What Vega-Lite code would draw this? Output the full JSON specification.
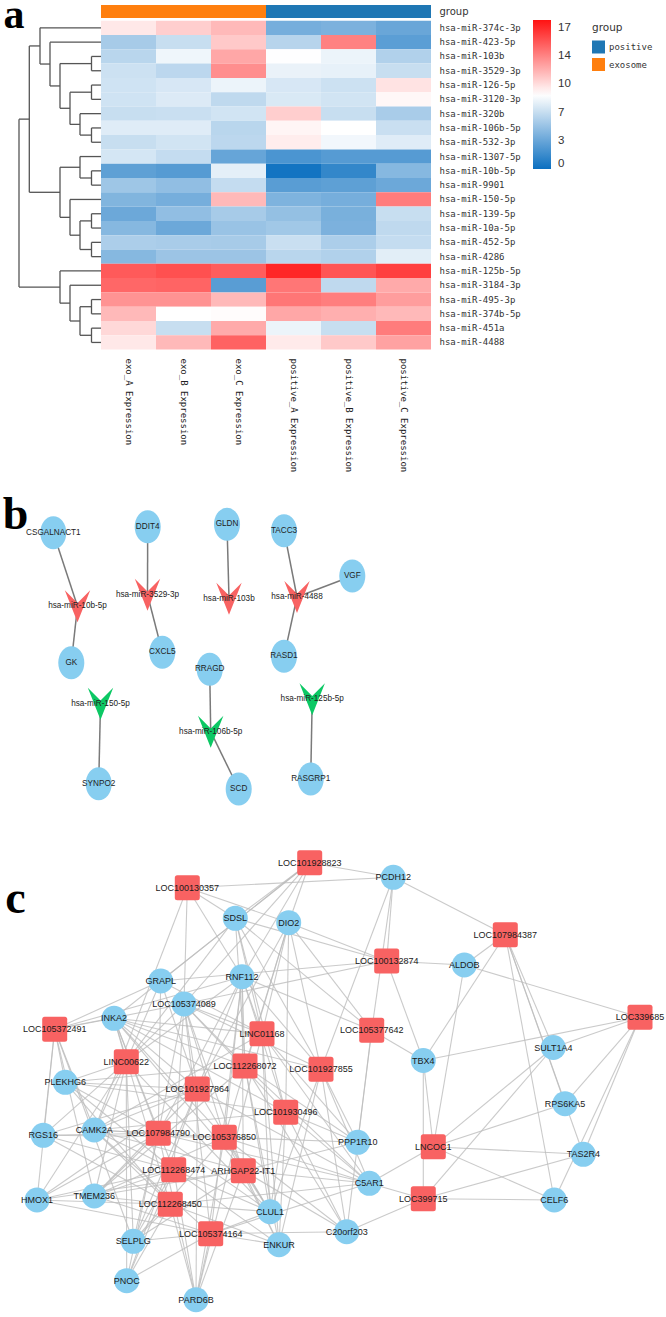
{
"$schema": "https://vega.github.io/schema/vega-lite/v6.json",
"width": 666, "height": 1317, "autosize": "none", "padding": 0, "background": "white",
"config": {"view": {"stroke": null}},
"datasets": {
"expr": [
{"gene":"hsa-miR-374c-3p","exo_A Expression":10,"exo_B Expression":11,"exo_C Expression":11.8,"positive_A Expression":4,"positive_B Expression":4.2,"positive_C Expression":3.5},
{"gene":"hsa-miR-423-5p","exo_A Expression":5.8,"exo_B Expression":7,"exo_C Expression":11.2,"positive_A Expression":6.4,"positive_B Expression":14,"positive_C Expression":3},
{"gene":"hsa-miR-103b","exo_A Expression":6.5,"exo_B Expression":8.5,"exo_C Expression":12.5,"positive_A Expression":9.05,"positive_B Expression":8.4,"positive_C Expression":6.2},
{"gene":"hsa-miR-3529-3p","exo_A Expression":7.2,"exo_B Expression":6.6,"exo_C Expression":13.5,"positive_A Expression":8.3,"positive_B Expression":8.2,"positive_C Expression":7},
{"gene":"hsa-miR-126-5p","exo_A Expression":7.3,"exo_B Expression":7.6,"exo_C Expression":8.4,"positive_A Expression":7.6,"positive_B Expression":7.2,"positive_C Expression":10.2},
{"gene":"hsa-miR-3120-3p","exo_A Expression":7.3,"exo_B Expression":7.8,"exo_C Expression":6.7,"positive_A Expression":7.7,"positive_B Expression":7.4,"positive_C Expression":9.4},
{"gene":"hsa-miR-320b","exo_A Expression":7,"exo_B Expression":7.1,"exo_C Expression":7.4,"positive_A Expression":11,"positive_B Expression":7,"positive_C Expression":5.9},
{"gene":"hsa-miR-106b-5p","exo_A Expression":7.9,"exo_B Expression":7.9,"exo_C Expression":6.5,"positive_A Expression":9.5,"positive_B Expression":9.1,"positive_C Expression":7.1},
{"gene":"hsa-miR-532-3p","exo_A Expression":7,"exo_B Expression":7.4,"exo_C Expression":6.6,"positive_A Expression":9.8,"positive_B Expression":8.6,"positive_C Expression":7.9},
{"gene":"hsa-miR-1307-5p","exo_A Expression":7.5,"exo_B Expression":6.9,"exo_C Expression":3.4,"positive_A Expression":2.4,"positive_B Expression":2.8,"positive_C Expression":2.8},
{"gene":"hsa-miR-10b-5p","exo_A Expression":3.1,"exo_B Expression":2.8,"exo_C Expression":8.1,"positive_A Expression":0.3,"positive_B Expression":1.5,"positive_C Expression":4.6},
{"gene":"hsa-miR-9901","exo_A Expression":5.5,"exo_B Expression":5,"exo_C Expression":6.9,"positive_A Expression":2.9,"positive_B Expression":3.1,"positive_C Expression":3.6},
{"gene":"hsa-miR-150-5p","exo_A Expression":4.4,"exo_B Expression":4,"exo_C Expression":11.8,"positive_A Expression":4.3,"positive_B Expression":4,"positive_C Expression":14.2},
{"gene":"hsa-miR-139-5p","exo_A Expression":3.6,"exo_B Expression":5,"exo_C Expression":5.8,"positive_A Expression":5.1,"positive_B Expression":4.1,"positive_C Expression":7},
{"gene":"hsa-miR-10a-5p","exo_A Expression":4.6,"exo_B Expression":3.6,"exo_C Expression":5.3,"positive_A Expression":5.6,"positive_B Expression":4.2,"positive_C Expression":6.7},
{"gene":"hsa-miR-452-5p","exo_A Expression":6,"exo_B Expression":5.9,"exo_C Expression":5.8,"positive_A Expression":7.1,"positive_B Expression":6,"positive_C Expression":6.9},
{"gene":"hsa-miR-4286","exo_A Expression":4.6,"exo_B Expression":5.4,"exo_C Expression":5.4,"positive_A Expression":6.5,"positive_B Expression":6.2,"positive_C Expression":8},
{"gene":"hsa-miR-125b-5p","exo_A Expression":15.5,"exo_B Expression":15.9,"exo_C Expression":15.4,"positive_A Expression":17.5,"positive_B Expression":15.7,"positive_C Expression":16.5},
{"gene":"hsa-miR-3184-3p","exo_A Expression":15,"exo_B Expression":15.1,"exo_C Expression":2.9,"positive_A Expression":14.4,"positive_B Expression":6.7,"positive_C Expression":12.4},
{"gene":"hsa-miR-495-3p","exo_A Expression":13.3,"exo_B Expression":13.3,"exo_C Expression":11.8,"positive_A Expression":14.4,"positive_B Expression":14.1,"positive_C Expression":12.9},
{"gene":"hsa-miR-374b-5p","exo_A Expression":11.8,"exo_B Expression":9.1,"exo_C Expression":9.2,"positive_A Expression":12.5,"positive_B Expression":12.2,"positive_C Expression":11.8},
{"gene":"hsa-miR-451a","exo_A Expression":10.6,"exo_B Expression":7,"exo_C Expression":12.4,"positive_A Expression":8.4,"positive_B Expression":7,"positive_C Expression":14.2},
{"gene":"hsa-miR-4488","exo_A Expression":10,"exo_B Expression":11.8,"exo_C Expression":15.2,"positive_A Expression":9.9,"positive_B Expression":11.2,"positive_C Expression":12.7}
],
"samples": [
{"sample":"exo_A Expression","group":"exosome"},{"sample":"exo_B Expression","group":"exosome"},{"sample":"exo_C Expression","group":"exosome"},
{"sample":"positive_A Expression","group":"positive"},{"sample":"positive_B Expression","group":"positive"},{"sample":"positive_C Expression","group":"positive"}
],
"dendro": [
{"h0":0.95,"h1":0.95,"r0":2,"r1":3},{"h0":0,"h1":0.95,"r0":2,"r1":2},{"h0":0,"h1":0.95,"r0":3,"r1":3},
{"h0":0.95,"h1":0.95,"r0":4,"r1":5},{"h0":0,"h1":0.95,"r0":4,"r1":4},{"h0":0,"h1":0.95,"r0":5,"r1":5},
{"h0":0.95,"h1":0.95,"r0":7,"r1":8},{"h0":0,"h1":0.95,"r0":7,"r1":7},{"h0":0,"h1":0.95,"r0":8,"r1":8},
{"h0":0.95,"h1":0.95,"r0":10,"r1":11},{"h0":0,"h1":0.95,"r0":10,"r1":10},{"h0":0,"h1":0.95,"r0":11,"r1":11},
{"h0":0.95,"h1":0.95,"r0":13,"r1":14},{"h0":0,"h1":0.95,"r0":13,"r1":13},{"h0":0,"h1":0.95,"r0":14,"r1":14},
{"h0":0.95,"h1":0.95,"r0":15,"r1":16},{"h0":0,"h1":0.95,"r0":15,"r1":15},{"h0":0,"h1":0.95,"r0":16,"r1":16},
{"h0":0.95,"h1":0.95,"r0":19,"r1":20},{"h0":0,"h1":0.95,"r0":19,"r1":19},{"h0":0,"h1":0.95,"r0":20,"r1":20},
{"h0":0.95,"h1":0.95,"r0":21,"r1":22},{"h0":0,"h1":0.95,"r0":21,"r1":21},{"h0":0,"h1":0.95,"r0":22,"r1":22},
{"h0":2.1,"h1":2.1,"r0":6,"r1":7.5},{"h0":0,"h1":2.1,"r0":6,"r1":6},{"h0":0.95,"h1":2.1,"r0":7.5,"r1":7.5},
{"h0":3.1,"h1":3.1,"r0":4.5,"r1":6.75},{"h0":0.95,"h1":3.1,"r0":4.5,"r1":4.5},{"h0":2.1,"h1":3.1,"r0":6.75,"r1":6.75},
{"h0":4.1,"h1":4.1,"r0":2.5,"r1":5.625},{"h0":0.95,"h1":4.1,"r0":2.5,"r1":2.5},{"h0":3.1,"h1":4.1,"r0":5.625,"r1":5.625},
{"h0":5.1,"h1":5.1,"r0":1,"r1":4.0625},{"h0":0,"h1":5.1,"r0":1,"r1":1},{"h0":4.1,"h1":5.1,"r0":4.0625,"r1":4.0625},
{"h0":6.1,"h1":6.1,"r0":0,"r1":2.53},{"h0":0,"h1":6.1,"r0":0,"r1":0},{"h0":5.1,"h1":6.1,"r0":2.53,"r1":2.53},
{"h0":2.1,"h1":2.1,"r0":9,"r1":10.5},{"h0":0,"h1":2.1,"r0":9,"r1":9},{"h0":0.95,"h1":2.1,"r0":10.5,"r1":10.5},
{"h0":2.1,"h1":2.1,"r0":13.5,"r1":15.5},{"h0":0.95,"h1":2.1,"r0":13.5,"r1":13.5},{"h0":0.95,"h1":2.1,"r0":15.5,"r1":15.5},
{"h0":3.1,"h1":3.1,"r0":12,"r1":14.5},{"h0":0,"h1":3.1,"r0":12,"r1":12},{"h0":2.1,"h1":3.1,"r0":14.5,"r1":14.5},
{"h0":4.1,"h1":4.1,"r0":9.75,"r1":13.25},{"h0":2.1,"h1":4.1,"r0":9.75,"r1":9.75},{"h0":3.1,"h1":4.1,"r0":13.25,"r1":13.25},
{"h0":7.17,"h1":7.17,"r0":1.265,"r1":11.5},{"h0":6.1,"h1":7.17,"r0":1.265,"r1":1.265},{"h0":4.1,"h1":7.17,"r0":11.5,"r1":11.5},
{"h0":2.1,"h1":2.1,"r0":19.5,"r1":21.5},{"h0":0.95,"h1":2.1,"r0":19.5,"r1":19.5},{"h0":0.95,"h1":2.1,"r0":21.5,"r1":21.5},
{"h0":3.1,"h1":3.1,"r0":18,"r1":20.5},{"h0":0,"h1":3.1,"r0":18,"r1":18},{"h0":2.1,"h1":3.1,"r0":20.5,"r1":20.5},
{"h0":4.1,"h1":4.1,"r0":17,"r1":19.25},{"h0":0,"h1":4.1,"r0":17,"r1":17},{"h0":3.1,"h1":4.1,"r0":19.25,"r1":19.25},
{"h0":8.2,"h1":8.2,"r0":6.383,"r1":18.125},{"h0":7.17,"h1":8.2,"r0":6.383,"r1":6.383},{"h0":4.1,"h1":8.2,"r0":18.125,"r1":18.125}
],
"bnodes": [
{"id":"CSGALNACT1","kind":"mRNA","x":53.3,"y":52.7},
{"id":"DDIT4","kind":"mRNA","x":147.7,"y":46.7},
{"id":"GLDN","kind":"mRNA","x":227,"y":44.3},
{"id":"TACC3","kind":"mRNA","x":284,"y":50.7},
{"id":"VGF","kind":"mRNA","x":352.3,"y":96},
{"id":"GK","kind":"mRNA","x":71.3,"y":182.7},
{"id":"CXCL5","kind":"mRNA","x":162.3,"y":172.3},
{"id":"RASD1","kind":"mRNA","x":284,"y":176.3},
{"id":"RRAGD","kind":"mRNA","x":209.7,"y":189.3},
{"id":"SYNPO2","kind":"mRNA","x":98.7,"y":303.7},
{"id":"SCD","kind":"mRNA","x":238.7,"y":309},
{"id":"RASGRP1","kind":"mRNA","x":310.7,"y":299},
{"id":"hsa-miR-10b-5p","kind":"up","x":77.5,"y":126.3},
{"id":"hsa-miR-3529-3p","kind":"up","x":147.5,"y":114.7},
{"id":"hsa-miR-103b","kind":"up","x":229,"y":118.8},
{"id":"hsa-miR-4488","kind":"up","x":297,"y":117},
{"id":"hsa-miR-150-5p","kind":"down","x":100.5,"y":223.7},
{"id":"hsa-miR-106b-5p","kind":"down","x":210.7,"y":251.7},
{"id":"hsa-miR-125b-5p","kind":"down","x":312.2,"y":219.3}
],
"bedges": [
{"s":"CSGALNACT1","t":"hsa-miR-10b-5p"},{"s":"hsa-miR-10b-5p","t":"GK"},
{"s":"DDIT4","t":"hsa-miR-3529-3p"},{"s":"hsa-miR-3529-3p","t":"CXCL5"},
{"s":"GLDN","t":"hsa-miR-103b"},
{"s":"TACC3","t":"hsa-miR-4488"},{"s":"VGF","t":"hsa-miR-4488"},{"s":"RASD1","t":"hsa-miR-4488"},
{"s":"hsa-miR-150-5p","t":"SYNPO2"},
{"s":"RRAGD","t":"hsa-miR-106b-5p"},{"s":"hsa-miR-106b-5p","t":"SCD"},
{"s":"hsa-miR-125b-5p","t":"RASGRP1"}
],
"cnodes": [
{"id":"LOC101928823","kind":"lncRNA","x":309.7,"y":22.7},
{"id":"LOC100130357","kind":"lncRNA","x":187.3,"y":47.7},
{"id":"SDSL","kind":"mRNA","x":235.3,"y":78.3},
{"id":"DIO2","kind":"mRNA","x":288.7,"y":82.7},
{"id":"PCDH12","kind":"mRNA","x":393.3,"y":37.3},
{"id":"LOC107984387","kind":"lncRNA","x":505.3,"y":94.7},
{"id":"LOC100132874","kind":"lncRNA","x":386.7,"y":121},
{"id":"ALDOB","kind":"mRNA","x":464.3,"y":125},
{"id":"GRAPL","kind":"mRNA","x":160.7,"y":141},
{"id":"RNF112","kind":"mRNA","x":242,"y":136.7},
{"id":"LOC105374089","kind":"mRNA","x":184,"y":164},
{"id":"INKA2","kind":"mRNA","x":114,"y":178.3},
{"id":"LOC105372491","kind":"lncRNA","x":54.7,"y":189.3},
{"id":"LINC01168","kind":"lncRNA","x":262,"y":193.7},
{"id":"LOC105377642","kind":"lncRNA","x":371.7,"y":190.3},
{"id":"LOC339685","kind":"lncRNA","x":640,"y":177.3},
{"id":"SULT1A4","kind":"mRNA","x":553.3,"y":207.5},
{"id":"TBX4","kind":"mRNA","x":423.3,"y":220.5},
{"id":"LINC00622","kind":"lncRNA","x":126.3,"y":221.7},
{"id":"LOC112268072","kind":"lncRNA","x":245,"y":226},
{"id":"LOC101927855","kind":"lncRNA","x":321,"y":229.3},
{"id":"PLEKHG6","kind":"mRNA","x":65.3,"y":242.3},
{"id":"LOC101927864","kind":"lncRNA","x":197.3,"y":249},
{"id":"LOC101930496","kind":"lncRNA","x":285.7,"y":272.3},
{"id":"RPS6KA5","kind":"mRNA","x":565,"y":263.7},
{"id":"RGS16","kind":"mRNA","x":43.3,"y":295.3},
{"id":"CAMK2A","kind":"mRNA","x":94.3,"y":290},
{"id":"LOC107984790","kind":"lncRNA","x":158.3,"y":293.3},
{"id":"LOC105376850","kind":"lncRNA","x":224.3,"y":297.3},
{"id":"PPP1R10","kind":"mRNA","x":357.7,"y":302.3},
{"id":"LNCOC1","kind":"lncRNA","x":433.3,"y":306.7},
{"id":"TAS2R4","kind":"mRNA","x":583.3,"y":314.3},
{"id":"LOC112268474","kind":"lncRNA","x":173.7,"y":329.7},
{"id":"ARHGAP22-IT1","kind":"lncRNA","x":243.3,"y":330.7},
{"id":"C5AR1","kind":"mRNA","x":369.3,"y":343.3},
{"id":"HMOX1","kind":"mRNA","x":37,"y":360},
{"id":"TMEM236","kind":"mRNA","x":94.3,"y":356},
{"id":"LOC112268450","kind":"lncRNA","x":170.3,"y":364.3},
{"id":"LOC399715","kind":"lncRNA","x":423.3,"y":358.7},
{"id":"CELF6","kind":"mRNA","x":554.3,"y":360},
{"id":"CLUL1","kind":"mRNA","x":270,"y":371.7},
{"id":"LOC105374164","kind":"lncRNA","x":210.7,"y":393.7},
{"id":"SELPLG","kind":"mRNA","x":133.3,"y":401.3},
{"id":"ENKUR","kind":"mRNA","x":279,"y":404.7},
{"id":"C20orf203","kind":"mRNA","x":346.7,"y":391.7},
{"id":"PNOC","kind":"mRNA","x":126.7,"y":440.7},
{"id":"PARD6B","kind":"mRNA","x":196,"y":459.7}
],
"cedges": [
{"s":"LOC107984387","t":"PCDH12"},{"s":"LOC107984387","t":"ALDOB"},{"s":"LOC107984387","t":"TBX4"},{"s":"LOC107984387","t":"SULT1A4"},{"s":"LOC107984387","t":"RPS6KA5"},{"s":"LOC107984387","t":"TAS2R4"},{"s":"LOC107984387","t":"CELF6"},
{"s":"LOC339685","t":"ALDOB"},{"s":"LOC339685","t":"TBX4"},{"s":"LOC339685","t":"SULT1A4"},{"s":"LOC339685","t":"RPS6KA5"},{"s":"LOC339685","t":"TAS2R4"},{"s":"LOC339685","t":"CELF6"},
{"s":"LNCOC1","t":"ALDOB"},{"s":"LNCOC1","t":"TBX4"},{"s":"LNCOC1","t":"SULT1A4"},{"s":"LNCOC1","t":"RPS6KA5"},{"s":"LNCOC1","t":"TAS2R4"},{"s":"LNCOC1","t":"CELF6"},{"s":"LNCOC1","t":"C5AR1"},
{"s":"LOC399715","t":"TBX4"},{"s":"LOC399715","t":"SULT1A4"},{"s":"LOC399715","t":"TAS2R4"},{"s":"LOC399715","t":"CELF6"},{"s":"LOC399715","t":"C5AR1"},{"s":"LOC399715","t":"C20orf203"},
{"s":"LOC100132874","t":"PCDH12"},{"s":"LOC100132874","t":"ALDOB"},{"s":"LOC100132874","t":"TBX4"},{"s":"LOC100132874","t":"DIO2"},{"s":"LOC100132874","t":"SDSL"},{"s":"LOC100132874","t":"LOC105374089"},{"s":"LOC100132874","t":"GRAPL"},
{"s":"LOC105377642","t":"PCDH12"},{"s":"LOC105377642","t":"TBX4"},{"s":"LOC105377642","t":"PPP1R10"},{"s":"LOC105377642","t":"DIO2"},{"s":"LOC105377642","t":"SDSL"},{"s":"LOC105377642","t":"RNF112"},{"s":"LOC105377642","t":"C20orf203"},
{"s":"LOC101928823","t":"PCDH12"},{"s":"LOC101928823","t":"SDSL"},{"s":"LOC101928823","t":"DIO2"},{"s":"LOC101928823","t":"RNF112"},{"s":"LOC101928823","t":"GRAPL"},{"s":"LOC101928823","t":"LOC105374089"},{"s":"LOC101928823","t":"INKA2"},
{"s":"LOC100130357","t":"PCDH12"},{"s":"LOC100130357","t":"SDSL"},{"s":"LOC100130357","t":"DIO2"},{"s":"LOC100130357","t":"RNF112"},{"s":"LOC100130357","t":"LOC105374089"},{"s":"LOC100130357","t":"CAMK2A"},
{"s":"LOC105372491","t":"INKA2"},{"s":"LOC105372491","t":"GRAPL"},{"s":"LOC105372491","t":"PLEKHG6"},{"s":"LOC105372491","t":"RGS16"},{"s":"LOC105372491","t":"HMOX1"},{"s":"LOC105372491","t":"CAMK2A"},{"s":"LOC105372491","t":"TMEM236"},{"s":"LOC105372491","t":"SELPLG"},{"s":"LOC105372491","t":"LOC105374089"},{"s":"LOC105372491","t":"RNF112"},
{"s":"LINC00622","t":"INKA2"},{"s":"LINC00622","t":"PLEKHG6"},{"s":"LINC00622","t":"RGS16"},{"s":"LINC00622","t":"CAMK2A"},{"s":"LINC00622","t":"HMOX1"},{"s":"LINC00622","t":"TMEM236"},{"s":"LINC00622","t":"SELPLG"},{"s":"LINC00622","t":"PNOC"},{"s":"LINC00622","t":"GRAPL"},{"s":"LINC00622","t":"LOC105374089"},{"s":"LINC00622","t":"RNF112"},{"s":"LINC00622","t":"SDSL"},{"s":"LINC00622","t":"CLUL1"},
{"s":"LINC01168","t":"RNF112"},{"s":"LINC01168","t":"LOC105374089"},{"s":"LINC01168","t":"SDSL"},{"s":"LINC01168","t":"DIO2"},{"s":"LINC01168","t":"INKA2"},{"s":"LINC01168","t":"GRAPL"},{"s":"LINC01168","t":"PPP1R10"},{"s":"LINC01168","t":"C5AR1"},{"s":"LINC01168","t":"CLUL1"},{"s":"LINC01168","t":"ENKUR"},{"s":"LINC01168","t":"CAMK2A"},{"s":"LINC01168","t":"PARD6B"},
{"s":"LOC112268072","t":"RNF112"},{"s":"LOC112268072","t":"SDSL"},{"s":"LOC112268072","t":"DIO2"},{"s":"LOC112268072","t":"LOC105374089"},{"s":"LOC112268072","t":"INKA2"},{"s":"LOC112268072","t":"PLEKHG6"},{"s":"LOC112268072","t":"C5AR1"},{"s":"LOC112268072","t":"PPP1R10"},{"s":"LOC112268072","t":"CLUL1"},{"s":"LOC112268072","t":"ENKUR"},{"s":"LOC112268072","t":"C20orf203"},{"s":"LOC112268072","t":"TMEM236"},
{"s":"LOC101927855","t":"DIO2"},{"s":"LOC101927855","t":"SDSL"},{"s":"LOC101927855","t":"RNF112"},{"s":"LOC101927855","t":"PCDH12"},{"s":"LOC101927855","t":"PPP1R10"},{"s":"LOC101927855","t":"C5AR1"},{"s":"LOC101927855","t":"C20orf203"},{"s":"LOC101927855","t":"ENKUR"},{"s":"LOC101927855","t":"CLUL1"},{"s":"LOC101927855","t":"LOC105374089"},{"s":"LOC101927855","t":"INKA2"},
{"s":"LOC101927864","t":"GRAPL"},{"s":"LOC101927864","t":"RNF112"},{"s":"LOC101927864","t":"LOC105374089"},{"s":"LOC101927864","t":"INKA2"},{"s":"LOC101927864","t":"PLEKHG6"},{"s":"LOC101927864","t":"RGS16"},{"s":"LOC101927864","t":"CAMK2A"},{"s":"LOC101927864","t":"HMOX1"},{"s":"LOC101927864","t":"TMEM236"},{"s":"LOC101927864","t":"SELPLG"},{"s":"LOC101927864","t":"PNOC"},{"s":"LOC101927864","t":"PARD6B"},{"s":"LOC101927864","t":"CLUL1"},{"s":"LOC101927864","t":"C5AR1"},{"s":"LOC101927864","t":"DIO2"},
{"s":"LOC101930496","t":"RNF112"},{"s":"LOC101930496","t":"DIO2"},{"s":"LOC101930496","t":"SDSL"},{"s":"LOC101930496","t":"LOC105374089"},{"s":"LOC101930496","t":"PPP1R10"},{"s":"LOC101930496","t":"C5AR1"},{"s":"LOC101930496","t":"C20orf203"},{"s":"LOC101930496","t":"CLUL1"},{"s":"LOC101930496","t":"ENKUR"},{"s":"LOC101930496","t":"INKA2"},{"s":"LOC101930496","t":"PLEKHG6"},{"s":"LOC101930496","t":"CAMK2A"},
{"s":"LOC107984790","t":"INKA2"},{"s":"LOC107984790","t":"PLEKHG6"},{"s":"LOC107984790","t":"RGS16"},{"s":"LOC107984790","t":"CAMK2A"},{"s":"LOC107984790","t":"HMOX1"},{"s":"LOC107984790","t":"TMEM236"},{"s":"LOC107984790","t":"SELPLG"},{"s":"LOC107984790","t":"PNOC"},{"s":"LOC107984790","t":"PARD6B"},{"s":"LOC107984790","t":"LOC105374089"},{"s":"LOC107984790","t":"GRAPL"},{"s":"LOC107984790","t":"RNF112"},{"s":"LOC107984790","t":"CLUL1"},{"s":"LOC107984790","t":"C5AR1"},
{"s":"LOC105376850","t":"RNF112"},{"s":"LOC105376850","t":"LOC105374089"},{"s":"LOC105376850","t":"INKA2"},{"s":"LOC105376850","t":"CAMK2A"},{"s":"LOC105376850","t":"RGS16"},{"s":"LOC105376850","t":"TMEM236"},{"s":"LOC105376850","t":"CLUL1"},{"s":"LOC105376850","t":"ENKUR"},{"s":"LOC105376850","t":"C5AR1"},{"s":"LOC105376850","t":"PPP1R10"},{"s":"LOC105376850","t":"C20orf203"},{"s":"LOC105376850","t":"SELPLG"},{"s":"LOC105376850","t":"PARD6B"},{"s":"LOC105376850","t":"DIO2"},
{"s":"LOC112268474","t":"PLEKHG6"},{"s":"LOC112268474","t":"RGS16"},{"s":"LOC112268474","t":"CAMK2A"},{"s":"LOC112268474","t":"HMOX1"},{"s":"LOC112268474","t":"TMEM236"},{"s":"LOC112268474","t":"SELPLG"},{"s":"LOC112268474","t":"PNOC"},{"s":"LOC112268474","t":"PARD6B"},{"s":"LOC112268474","t":"INKA2"},{"s":"LOC112268474","t":"LOC105374089"},{"s":"LOC112268474","t":"CLUL1"},{"s":"LOC112268474","t":"ENKUR"},
{"s":"ARHGAP22-IT1","t":"RNF112"},{"s":"ARHGAP22-IT1","t":"LOC105374089"},{"s":"ARHGAP22-IT1","t":"CLUL1"},{"s":"ARHGAP22-IT1","t":"ENKUR"},{"s":"ARHGAP22-IT1","t":"C5AR1"},{"s":"ARHGAP22-IT1","t":"PPP1R10"},{"s":"ARHGAP22-IT1","t":"C20orf203"},{"s":"ARHGAP22-IT1","t":"TMEM236"},{"s":"ARHGAP22-IT1","t":"CAMK2A"},{"s":"ARHGAP22-IT1","t":"SELPLG"},{"s":"ARHGAP22-IT1","t":"PARD6B"},{"s":"ARHGAP22-IT1","t":"HMOX1"},{"s":"ARHGAP22-IT1","t":"INKA2"},
{"s":"LOC112268450","t":"RGS16"},{"s":"LOC112268450","t":"HMOX1"},{"s":"LOC112268450","t":"TMEM236"},{"s":"LOC112268450","t":"CAMK2A"},{"s":"LOC112268450","t":"PLEKHG6"},{"s":"LOC112268450","t":"SELPLG"},{"s":"LOC112268450","t":"PNOC"},{"s":"LOC112268450","t":"PARD6B"},{"s":"LOC112268450","t":"CLUL1"},{"s":"LOC112268450","t":"ENKUR"},{"s":"LOC112268450","t":"INKA2"},{"s":"LOC112268450","t":"C5AR1"},
{"s":"LOC105374164","t":"SELPLG"},{"s":"LOC105374164","t":"PNOC"},{"s":"LOC105374164","t":"PARD6B"},{"s":"LOC105374164","t":"ENKUR"},{"s":"LOC105374164","t":"CLUL1"},{"s":"LOC105374164","t":"C20orf203"},{"s":"LOC105374164","t":"TMEM236"},{"s":"LOC105374164","t":"HMOX1"},{"s":"LOC105374164","t":"CAMK2A"},{"s":"LOC105374164","t":"C5AR1"},{"s":"LOC105374164","t":"LOC105374089"},{"s":"LOC105374164","t":"RNF112"}
]
},
"layer": [
{
"data": {"name": "expr"},
"transform": [{"fold": ["exo_A Expression","exo_B Expression","exo_C Expression","positive_A Expression","positive_B Expression","positive_C Expression"], "as": ["sample","value"]}],
"mark": {"type": "rect"},
"encoding": {
"x": {"field": "sample", "type": "nominal", "scale": {"domain": ["exo_A Expression","exo_B Expression","exo_C Expression","positive_A Expression","positive_B Expression","positive_C Expression"], "range": [101, 431], "paddingInner": 0, "paddingOuter": 0},
 "axis": {"orient": "bottom", "offset": -967, "title": null, "labelAngle": 90, "labelFont": "DejaVu Sans Mono", "labelFontSize": 9, "labelColor": "#222", "domain": false, "ticks": false, "labelPadding": 8, "labelOverlap": false, "labelFlush": false}},
"y": {"field": "gene", "type": "nominal", "scale": {"domain": ["hsa-miR-374c-3p","hsa-miR-423-5p","hsa-miR-103b","hsa-miR-3529-3p","hsa-miR-126-5p","hsa-miR-3120-3p","hsa-miR-320b","hsa-miR-106b-5p","hsa-miR-532-3p","hsa-miR-1307-5p","hsa-miR-10b-5p","hsa-miR-9901","hsa-miR-150-5p","hsa-miR-139-5p","hsa-miR-10a-5p","hsa-miR-452-5p","hsa-miR-4286","hsa-miR-125b-5p","hsa-miR-3184-3p","hsa-miR-495-3p","hsa-miR-374b-5p","hsa-miR-451a","hsa-miR-4488"], "range": [20.7, 349.6], "paddingInner": 0, "paddingOuter": 0},
 "axis": {"orient": "right", "offset": -235, "title": null, "labelFont": "DejaVu Sans Mono", "labelFontSize": 9, "labelColor": "#333", "domain": false, "ticks": false, "labelPadding": 8, "labelOverlap": false}},
"color": {"field": "value", "type": "quantitative", "scale": {"domain": [0, 9.1, 18.3], "range": ["#0b6fc0", "#ffffff", "#ff1212"], "interpolate": "rgb"},
 "legend": {"orient": "none", "legendX": 533, "legendY": 20, "title": null, "direction": "vertical", "gradientLength": 149, "gradientThickness": 18, "values": [0, 3.46, 6.92, 10.38, 13.84, 17.3], "format": ".0f", "labelFont": "Liberation Sans", "labelFontSize": 11.5, "labelColor": "#333", "labelOffset": 7, "padding": 0, "gradientStrokeWidth": 0}}
}
},
{
"data": {"name": "samples"},
"mark": {"type": "rect"},
"encoding": {
"x": {"field": "sample", "type": "nominal", "scale": {"domain": ["exo_A Expression","exo_B Expression","exo_C Expression","positive_A Expression","positive_B Expression","positive_C Expression"], "range": [101, 431], "paddingInner": 0, "paddingOuter": 0}, "axis": null},
"y": {"datum": "group", "type": "nominal", "scale": {"domain": ["group"], "range": [5, 18], "paddingInner": 0, "paddingOuter": 0},
 "axis": {"orient": "right", "offset": -235, "title": null, "labelFont": "DejaVu Sans", "labelFontSize": 10, "labelColor": "#333", "domain": false, "ticks": false, "labelPadding": 8}},
"color": {"field": "group", "type": "nominal", "scale": {"domain": ["positive", "exosome"], "range": ["#1f77b4", "#ff7f0e"]},
 "legend": {"orient": "none", "legendX": 592, "legendY": 23, "title": "group", "titleFont": "DejaVu Sans", "titleFontSize": 10.5, "titleFontWeight": "normal", "titleColor": "#333", "titlePadding": 7, "labelFont": "DejaVu Sans Mono", "labelFontSize": 9, "labelColor": "#333", "symbolType": "square", "symbolSize": 169, "symbolStrokeWidth": 0, "symbolOpacity": 1, "rowPadding": 4.5, "labelOffset": 4, "padding": 0}}
}
},
{
"data": {"name": "dendro"},
"mark": {"type": "rule", "color": "#555", "strokeWidth": 1.3},
"encoding": {
"x": {"field": "h0", "type": "quantitative", "scale": {"domain": [0, 8.2], "range": [101, 19], "nice": false, "zero": false}, "axis": null},
"x2": {"field": "h1"},
"y": {"field": "r0", "type": "quantitative", "scale": {"domain": [-0.5, 22.5], "range": [20.7, 349.6], "nice": false, "zero": false}, "axis": null},
"y2": {"field": "r1"}
}
},
{
"data": {"values": [{"letter": "a", "h": 8.7, "r": 0.0}]},
"mark": {"type": "text", "font": "Liberation Serif", "fontWeight": "bold", "fontSize": 42, "align": "center", "baseline": "alphabetic", "color": "#000"},
"encoding": {
"x": {"field": "h", "type": "quantitative", "scale": {"domain": [0, 8.2], "range": [101, 19], "nice": false, "zero": false}, "axis": null},
"y": {"field": "r", "type": "quantitative", "scale": {"domain": [-0.5, 22.5], "range": [20.7, 349.6], "nice": false, "zero": false}, "axis": null},
"text": {"field": "letter"}
}
},
{
"data": {"name": "bedges"},
"transform": [
{"lookup": "s", "from": {"data": {"name": "bnodes"}, "key": "id", "fields": ["x", "y"]}, "as": ["sx", "sy"]},
{"lookup": "t", "from": {"data": {"name": "bnodes"}, "key": "id", "fields": ["x", "y"]}, "as": ["tx", "ty"]}
],
"mark": {"type": "rule", "color": "#7a7a7a", "strokeWidth": 1.5},
"encoding": {
"x": {"field": "sx", "type": "quantitative", "scale": {"domain": [0, 666], "range": [0, 666], "nice": false, "zero": false}, "axis": null},
"x2": {"field": "tx"},
"y": {"field": "sy", "type": "quantitative", "scale": {"domain": [0, 330], "range": [480, 810], "nice": false, "zero": false}, "axis": null},
"y2": {"field": "ty"}
}
},
{
"data": {"name": "bnodes"},
"mark": {"type": "point", "filled": true, "size": 1089, "opacity": 1, "strokeWidth": 0},
"encoding": {
"x": {"field": "x", "type": "quantitative", "scale": {"domain": [0, 666], "range": [0, 666], "nice": false, "zero": false}, "axis": null},
"y": {"field": "y", "type": "quantitative", "scale": {"domain": [0, 330], "range": [480, 810], "nice": false, "zero": false}, "axis": null},
"shape": {"field": "kind", "type": "nominal", "scale": {"domain": ["mRNA", "up", "down"], "range": ["M0,-1C0.436,-1 0.79,-0.552 0.79,0C0.79,0.552 0.436,1 0,1C-0.436,1 -0.79,0.552 -0.79,0C-0.79,-0.552 -0.436,-1 0,-1Z", "M-0.77,-0.97L0,-0.2L0.77,-0.97L0,0.97Z", "M-0.77,-0.97L0,-0.2L0.77,-0.97L0,0.97Z"]}, "legend": null},
"fill": {"field": "kind", "type": "nominal", "scale": {"domain": ["mRNA", "up", "down"], "range": ["#87cef0", "#f86262", "#0cc864"]}, "legend": null}
}
},
{
"data": {"name": "bnodes"},
"mark": {"type": "text", "font": "Liberation Sans", "fontSize": 8.2, "align": "center", "baseline": "middle", "color": "#222"},
"encoding": {
"x": {"field": "x", "type": "quantitative", "scale": {"domain": [0, 666], "range": [0, 666], "nice": false, "zero": false}, "axis": null},
"y": {"field": "y", "type": "quantitative", "scale": {"domain": [0, 330], "range": [480, 810], "nice": false, "zero": false}, "axis": null},
"text": {"field": "id"}
}
},
{
"data": {"values": [{"letter": "b", "x": 15.5, "y": 49}]},
"mark": {"type": "text", "font": "Liberation Serif", "fontWeight": "bold", "fontSize": 46, "align": "center", "baseline": "alphabetic", "color": "#000"},
"encoding": {
"x": {"field": "x", "type": "quantitative", "scale": {"domain": [0, 666], "range": [0, 666], "nice": false, "zero": false}, "axis": null},
"y": {"field": "y", "type": "quantitative", "scale": {"domain": [0, 330], "range": [480, 810], "nice": false, "zero": false}, "axis": null},
"text": {"field": "letter"}
}
},
{
"data": {"name": "cedges"},
"transform": [
{"lookup": "s", "from": {"data": {"name": "cnodes"}, "key": "id", "fields": ["x", "y"]}, "as": ["sx", "sy"]},
{"lookup": "t", "from": {"data": {"name": "cnodes"}, "key": "id", "fields": ["x", "y"]}, "as": ["tx", "ty"]}
],
"mark": {"type": "rule", "color": "#bdbdbd", "strokeWidth": 1.1, "opacity": 0.8},
"encoding": {
"x": {"field": "sx", "type": "quantitative", "scale": {"domain": [0, 666], "range": [0, 666], "nice": false, "zero": false}, "axis": null},
"x2": {"field": "tx"},
"y": {"field": "sy", "type": "quantitative", "scale": {"domain": [0, 477], "range": [840, 1317], "nice": false, "zero": false}, "axis": null},
"y2": {"field": "ty"}
}
},
{
"data": {"name": "cnodes"},
"mark": {"type": "point", "filled": true, "size": 625, "opacity": 1, "strokeWidth": 0},
"encoding": {
"x": {"field": "x", "type": "quantitative", "scale": {"domain": [0, 666], "range": [0, 666], "nice": false, "zero": false}, "axis": null},
"y": {"field": "y", "type": "quantitative", "scale": {"domain": [0, 477], "range": [840, 1317], "nice": false, "zero": false}, "axis": null},
"shape": {"field": "kind", "type": "nominal", "scale": {"domain": ["mRNA", "lncRNA"], "range": ["circle", "M-0.8,-1L0.8,-1Q1,-1 1,-0.8L1,0.8Q1,1 0.8,1L-0.8,1Q-1,1 -1,0.8L-1,-0.8Q-1,-1 -0.8,-1Z"]}, "legend": null},
"fill": {"field": "kind", "type": "nominal", "scale": {"domain": ["mRNA", "lncRNA"], "range": ["#87cef0", "#f86262"]}, "legend": null}
}
},
{
"data": {"name": "cnodes"},
"mark": {"type": "text", "font": "Liberation Sans", "fontSize": 9, "align": "center", "baseline": "middle", "color": "#1a1a1a"},
"encoding": {
"x": {"field": "x", "type": "quantitative", "scale": {"domain": [0, 666], "range": [0, 666], "nice": false, "zero": false}, "axis": null},
"y": {"field": "y", "type": "quantitative", "scale": {"domain": [0, 477], "range": [840, 1317], "nice": false, "zero": false}, "axis": null},
"text": {"field": "id"}
}
},
{
"data": {"values": [{"letter": "c", "x": 15.5, "y": 73}]},
"mark": {"type": "text", "font": "Liberation Serif", "fontWeight": "bold", "fontSize": 46, "align": "center", "baseline": "alphabetic", "color": "#000"},
"encoding": {
"x": {"field": "x", "type": "quantitative", "scale": {"domain": [0, 666], "range": [0, 666], "nice": false, "zero": false}, "axis": null},
"y": {"field": "y", "type": "quantitative", "scale": {"domain": [0, 477], "range": [840, 1317], "nice": false, "zero": false}, "axis": null},
"text": {"field": "letter"}
}
}
],
"resolve": {
"scale": {"x": "independent", "y": "independent", "color": "independent", "fill": "independent", "shape": "independent"},
"axis": {"x": "independent", "y": "independent"},
"legend": {"color": "independent", "fill": "independent", "shape": "independent"}
}
}
